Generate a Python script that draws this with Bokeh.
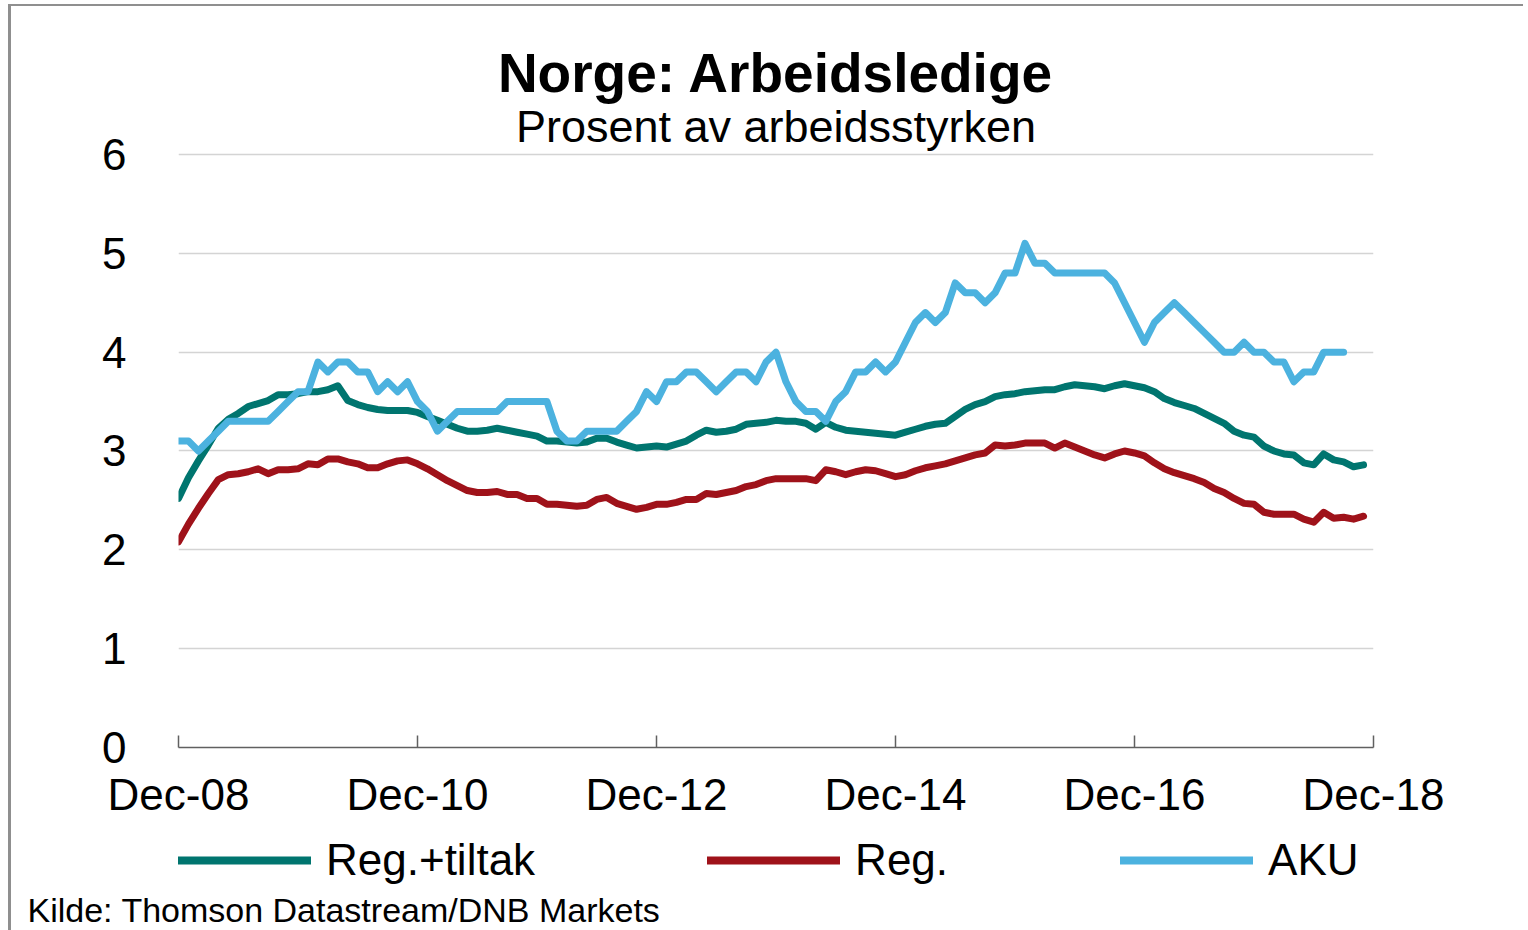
from bokeh.plotting import figure
from bokeh.layouts import column
from bokeh.models import Range1d, FixedTicker, Legend, LegendItem, ColumnDataSource, Title
from bokeh.embed import file_html
from bokeh.resources import INLINE

# ---- data (monthly, starting Dec-08) ----
reg_tiltak = [2.52, 2.73, 2.90, 3.06, 3.23, 3.32, 3.38, 3.45, 3.48, 3.51,
              3.57, 3.57, 3.58, 3.60, 3.60, 3.62, 3.66, 3.51, 3.47, 3.44,
              3.42, 3.41, 3.41, 3.41, 3.39, 3.35, 3.31, 3.27, 3.23, 3.20,
              3.20, 3.21, 3.23, 3.21, 3.19, 3.17, 3.15, 3.10, 3.10, 3.09,
              3.08, 3.09, 3.13, 3.13, 3.09, 3.06, 3.03, 3.04, 3.05, 3.04,
              3.07, 3.10, 3.16, 3.21, 3.19, 3.20, 3.22, 3.27, 3.28, 3.29,
              3.31, 3.30, 3.30, 3.28, 3.22, 3.29, 3.24, 3.21, 3.20, 3.19,
              3.18, 3.17, 3.16, 3.19, 3.22, 3.25, 3.27, 3.28, 3.35, 3.42,
              3.47, 3.50, 3.55, 3.57, 3.58, 3.60, 3.61, 3.62, 3.62, 3.65,
              3.67, 3.66, 3.65, 3.63, 3.66, 3.68, 3.66, 3.64, 3.60, 3.53,
              3.49, 3.46, 3.43, 3.38, 3.33, 3.28, 3.20, 3.16, 3.14, 3.05,
              3.00, 2.97, 2.96, 2.88, 2.86, 2.97, 2.91, 2.89, 2.84, 2.86]

reg = [2.08, 2.26, 2.42, 2.57, 2.71, 2.76, 2.77, 2.79, 2.82, 2.77,
       2.81, 2.81, 2.82, 2.87, 2.86, 2.92, 2.92, 2.89, 2.87, 2.83,
       2.83, 2.87, 2.90, 2.91, 2.87, 2.82, 2.76, 2.70, 2.65, 2.60,
       2.58, 2.58, 2.59, 2.56, 2.56, 2.52, 2.52, 2.46, 2.46, 2.45,
       2.44, 2.45, 2.51, 2.53, 2.47, 2.44, 2.41, 2.43, 2.46, 2.46,
       2.48, 2.51, 2.51, 2.57, 2.56, 2.58, 2.60, 2.64, 2.66, 2.70,
       2.72, 2.72, 2.72, 2.72, 2.70, 2.81, 2.79, 2.76, 2.79, 2.81,
       2.80, 2.77, 2.74, 2.76, 2.80, 2.83, 2.85, 2.87, 2.90, 2.93,
       2.96, 2.98, 3.06, 3.05, 3.06, 3.08, 3.08, 3.08, 3.03, 3.08,
       3.04, 3.00, 2.96, 2.93, 2.97, 3.00, 2.98, 2.95, 2.88, 2.82,
       2.78, 2.75, 2.72, 2.68, 2.62, 2.58, 2.52, 2.47, 2.46, 2.38,
       2.36, 2.36, 2.36, 2.31, 2.28, 2.38, 2.32, 2.33, 2.31, 2.34]

aku = [3.1, 3.1, 3.0, 3.1, 3.2, 3.3, 3.3, 3.3, 3.3, 3.3,
       3.4, 3.5, 3.6, 3.6, 3.9, 3.8, 3.9, 3.9, 3.8, 3.8,
       3.6, 3.7, 3.6, 3.7, 3.5, 3.4, 3.2, 3.3, 3.4, 3.4,
       3.4, 3.4, 3.4, 3.5, 3.5, 3.5, 3.5, 3.5, 3.2, 3.1,
       3.1, 3.2, 3.2, 3.2, 3.2, 3.3, 3.4, 3.6, 3.5, 3.7,
       3.7, 3.8, 3.8, 3.7, 3.6, 3.7, 3.8, 3.8, 3.7, 3.9,
       4.0, 3.7, 3.5, 3.4, 3.4, 3.3, 3.5, 3.6, 3.8, 3.8,
       3.9, 3.8, 3.9, 4.1, 4.3, 4.4, 4.3, 4.4, 4.7, 4.6,
       4.6, 4.5, 4.6, 4.8, 4.8, 5.1, 4.9, 4.9, 4.8, 4.8,
       4.8, 4.8, 4.8, 4.8, 4.7, 4.5, 4.3, 4.1, 4.3, 4.4,
       4.5, 4.4, 4.3, 4.2, 4.1, 4.0, 4.0, 4.1, 4.0, 4.0,
       3.9, 3.9, 3.7, 3.8, 3.8, 4.0, 4.0, 4.0]

tick_months = [0, 24, 48, 72, 96, 120]
tick_labels = ["Dec-08", "Dec-10", "Dec-12", "Dec-14", "Dec-16", "Dec-18"]
y_ticks = [0, 1, 2, 3, 4, 5, 6]
series_names = ["Reg.+tiltak", "Reg.", "AKU"]
colors = ["#00756F", "#9F121A", "#4CB2DF"]
source_note = "Kilde: Thomson Datastream/DNB Markets"

FONT = "Liberation Sans"
BORDER = "#8f8f8f"
all_series = [reg_tiltak, reg, aku]

# ---------------- main chart ----------------
p = figure(frame_width=1192, frame_height=594, output_backend="svg", toolbar_location=None,
           x_range=Range1d(0, 120), y_range=Range1d(0, 6.03),
           min_border_left=167, min_border_right=153, min_border_top=145,
           min_border_bottom=88)
p.styles = {"border-top": f"2px solid {BORDER}", "border-left": f"3px solid {BORDER}",
            "margin-left": "8px", "margin-top": "4px"}
p.outline_line_color = None
p.background_fill_color = "white"
p.border_fill_color = "white"

for vals, c in zip(all_series, colors):
    src = ColumnDataSource(dict(x=list(range(len(vals))), y=vals))
    p.line("x", "y", source=src, line_color=c, line_width=7,
           line_join="round", line_cap="round")

xa = p.xaxis[0]
xa.ticker = FixedTicker(ticks=tick_months)
xa.major_label_overrides = {m: l for m, l in zip(tick_months, tick_labels)}
xa.axis_line_color = "#606060"
xa.axis_line_width = 1.5
xa.major_tick_line_color = "#606060"
xa.major_tick_line_width = 1.5
xa.major_tick_in = 12
xa.major_tick_out = 0
xa.minor_tick_line_color = None
xa.major_label_standoff = 22
xa.major_label_text_font = FONT
xa.major_label_text_font_size = "44px"
xa.major_label_text_color = "black"

ya = p.yaxis[0]
ya.ticker = FixedTicker(ticks=y_ticks)
ya.axis_line_color = None
ya.major_tick_line_color = None
ya.minor_tick_line_color = None
ya.major_label_standoff = 46
ya.major_label_text_font = FONT
ya.major_label_text_font_size = "44px"
ya.major_label_text_color = "black"

p.xgrid.grid_line_color = None
p.ygrid.ticker = FixedTicker(ticks=y_ticks)
p.ygrid.grid_line_color = "#d4d4d4"
p.ygrid.grid_line_width = 1.5

p.title.text = "Norge: Arbeidsledige"
p.title.align = "center"
p.title.text_font = FONT
p.title.text_font_style = "bold"
p.title.text_font_size = "55px"
p.title.text_color = "black"
p.title.standoff = -10
p.add_layout(Title(text="Prosent av arbeidsstyrken", align="center", text_font=FONT,
                   text_font_style="normal", text_font_size="45px", text_color="black",
                   standoff=0), "above")

# ---------------- legend strip + source note ----------------
q = figure(width=1512, height=98, output_backend="svg", toolbar_location=None,
           x_range=Range1d(0, 1), y_range=Range1d(0, 1),
           x_axis_location=None, y_axis_location=None,
           min_border_left=0, min_border_right=0, min_border_top=0, min_border_bottom=0)
q.styles = {"border-left": f"3px solid {BORDER}", "margin-left": "8px"}
q.outline_line_color = None
q.grid.visible = False
q.background_fill_color = "white"
q.border_fill_color = "white"

# legend keys: the same series, which lie outside this strip's range (only the keys show)
key_renderers = []
for vals, c in zip(all_series, colors):
    src = ColumnDataSource(dict(x=list(range(len(vals))), y=vals))
    key_renderers.append(q.line("x", "y", source=src, line_color=c, line_width=8, line_cap="round"))

legend = Legend(items=[LegendItem(label=n, renderers=[r]) for n, r in zip(series_names, key_renderers)],
                location=(0, 0), orientation="horizontal", glyph_width=133, glyph_height=46,
                label_height=46, label_standoff=15, padding=0, margin=0, spacing=172,
                border_line_color=None, background_fill_alpha=0,
                label_text_font=FONT, label_text_font_size="44px", label_text_color="black")
q.add_layout(legend, "center")

q.add_layout(Title(text=source_note, align="left", offset=-151, text_font=FONT,
                   text_font_style="normal", text_font_size="34px", text_color="black",
                   standoff=6), "below")

layout = column(p, q, spacing=0)
open("out.html", "w").write(file_html(layout, INLINE))
